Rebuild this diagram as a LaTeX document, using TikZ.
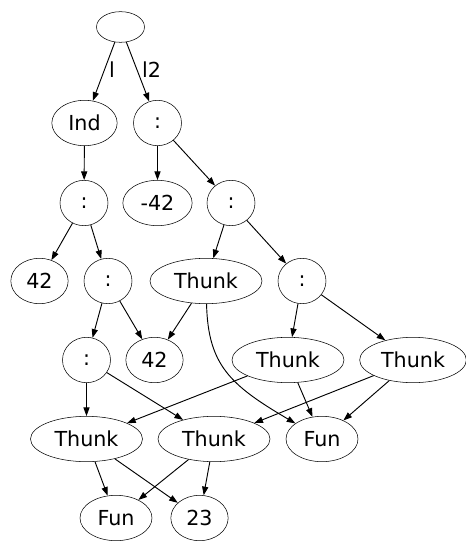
\documentclass[tikz,border=0pt]{standalone}
\usepackage{fontspec}
\setmainfont{DejaVu Sans}
\usetikzlibrary{shapes.geometric}
\usetikzlibrary{arrows.meta}

\begin{document}
\begin{tikzpicture}[x=0.75pt,y=0.75pt,yscale=-1,xscale=1,
  cell/.style={draw, ellipse, inner sep=0pt, minimum height=34pt, minimum width=36pt,
    font=\fontsize{15.5}{18}\selectfont},
  edge/.style={line width=0.7pt, -{Triangle[length=6.5pt,width=4.6pt]}}]
\useasboundingbox (0,0) rectangle (466,541);

%Nodes, top to bottom
\node [cell, minimum height=23pt] (root) at (120.5,27) {};
\node [cell, minimum width=49pt] (ind) at (84.5,123) {Ind};
\node [cell] (cRight) at (157.5,123) {:};

\node [cell] (cInd) at (84,203) {:};
\node [cell, minimum width=52pt] (neg42) at (157.5,203) {-42};
\node [cell] (cTail) at (231,203) {:};

\node [cell, minimum width=43pt] (num42a) at (39.5,281) {42};
\node [cell] (cTwo) at (108,281) {:};
\node [cell, minimum width=84pt] (thunkA) at (206,281) {Thunk};
\node [cell] (cThree) at (302,281) {:};

\node [cell] (cFour) at (86.5,360) {:};
\node [cell, minimum width=43pt] (num42b) at (154.5,360) {42};
\node [cell, minimum width=84pt] (thunkB) at (288,360) {Thunk};
\node [cell, minimum width=80pt] (thunkC) at (413,360) {Thunk};

\node [cell, minimum width=84pt] (thunkD) at (86.5,439) {Thunk};
\node [cell, minimum width=84pt] (thunkE) at (214,439) {Thunk};
\node [cell, minimum width=54pt] (funA) at (322,439) {Fun};

\node [cell, minimum width=54pt] (funB) at (116,518) {Fun};
\node [cell, minimum width=43pt] (num23) at (199.5,518) {23};

% Text Node
\node [font=\fontsize{15.5}{18}\selectfont] (labL) at (112,70) {l};
% Text Node
\node [font=\fontsize{15.5}{18}\selectfont] (labLL) at (151.5,70) {l2};

%Edges
\draw [edge] (root) -- (ind);
\draw [edge] (root) -- (cRight);
\draw [edge] (ind) -- (cInd);
\draw [edge] (cRight) -- (neg42);
\draw [edge] (cRight) -- (cTail);
\draw [edge] (cInd) -- (num42a);
\draw [edge] (cInd) -- (cTwo);
\draw [edge] (cTail) -- (thunkA);
\draw [edge] (cTail) -- (cThree);
\draw [edge] (cTwo) -- (cFour);
\draw [edge] (cTwo) -- (num42b);
\draw [edge] (thunkA) -- (num42b);
\draw [edge] (thunkA) .. controls (208,365) and (230,385) .. (funA);
\draw [edge] (cThree) -- (thunkB);
\draw [edge] (cThree) -- (thunkC);
\draw [edge] (cFour) -- (thunkD);
\draw [edge] (cFour) -- (thunkE);
\draw [edge] (thunkB) -- (thunkD);
\draw [edge] (thunkB) -- (funA);
\draw [edge] (thunkC) -- (thunkE);
\draw [edge] (thunkC) -- (funA);
\draw [edge] (thunkD) -- (funB);
\draw [edge] (thunkD) -- (num23);
\draw [edge] (thunkE) -- (funB);
\draw [edge] (thunkE) -- (num23);

\end{tikzpicture}
\end{document}
